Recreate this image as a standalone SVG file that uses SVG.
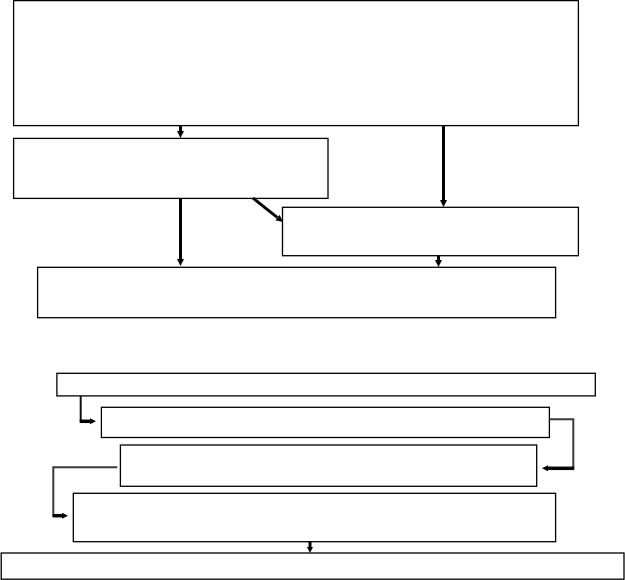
<svg xmlns="http://www.w3.org/2000/svg" width="625" height="580" viewBox="0 0 625 580">
<style>
.box{fill:#fff;stroke:#000;stroke-width:1.3}
.thick{fill:none;stroke:#000;stroke-width:3}
.mid{fill:none;stroke:#000;stroke-width:3.5}
.grey{fill:none;stroke:#3a3a3a;stroke-width:2}
.blk{fill:none;stroke:#111;stroke-width:2}
</style>
<defs>
<marker id="ah" markerUnits="userSpaceOnUse" markerWidth="8" markerHeight="8" refX="0" refY="3.5" orient="auto">
<path d="M0,0 L7,3.5 L0,7 Z" fill="#000"/>
</marker>
<marker id="ah2" markerUnits="userSpaceOnUse" markerWidth="7" markerHeight="7" refX="0" refY="3" orient="auto">
<path d="M0,0 L6,3 L0,6 Z" fill="#000"/>
</marker>
</defs>
<rect width="625" height="580" fill="#fff"/>
<g id="n1"><rect class="box" x="13.6" y="0.6" width="564.8" height="125"/></g>
<g id="n2"><rect class="box" x="13.6" y="138.4" width="314.4" height="60"/></g>
<g id="n3"><rect class="box" x="282.5" y="207.3" width="295.9" height="48.4"/></g>
<g id="n4"><rect class="box" x="37.6" y="267.3" width="518" height="50.4"/></g>
<g id="n5"><rect class="box" x="56.9" y="373.3" width="538.4" height="22.6"/></g>
<g id="n6"><rect class="box" x="101.4" y="407.3" width="448" height="30.2"/></g>
<g id="n7"><rect class="box" x="120.4" y="445" width="416.3" height="41.3"/></g>
<g id="n8"><rect class="box" x="73.3" y="493.3" width="482.3" height="48.4"/></g>
<g id="n9"><rect class="box" x="1.2" y="553" width="622.8" height="26.2"/></g>
<g id="connectors">
<path class="thick" d="M180.5,125.6 V131" marker-end="url(#ah)"/>
<path class="thick" d="M443.5,125.6 V200" marker-end="url(#ah)"/>
<path class="thick" d="M180.5,198.4 V259" marker-end="url(#ah)"/>
<path class="thick" d="M253,198 L277.5,217.6" marker-end="url(#ah)"/>
<path class="thick" d="M438.5,255.7 V260" marker-end="url(#ah)"/>
<path class="blk" d="M80.7,395.9 V421.3"/>
<path class="mid" d="M79.7,421.3 H90" marker-end="url(#ah2)"/>
<path class="grey" d="M549.4,419.3 H573.3 V468.3"/>
<path class="mid" d="M574.2,468.3 H548" marker-end="url(#ah2)"/>
<path class="grey" d="M117.3,467.3 H53.3 V515.7"/>
<path class="mid" d="M52.5,515.7 H62" marker-end="url(#ah2)"/>
<path class="thick" d="M310,541.7 V547" marker-end="url(#ah2)"/>
</g>
</svg>
